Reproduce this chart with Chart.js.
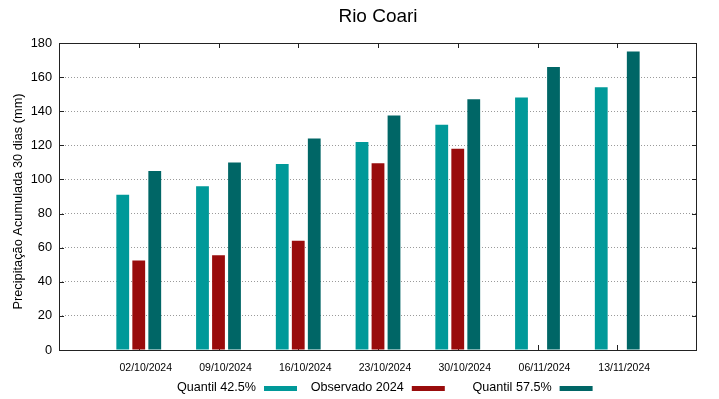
<!DOCTYPE html>
<html>
<head>
<meta charset="utf-8">
<script src="https://cdn.jsdelivr.net/npm/chart.js@4/dist/chart.umd.min.js"></script>
<style>
  html, body { margin: 0; padding: 0; background: #fff; }
  canvas { display: block; }
</style>
</head>
<body>
<canvas id="c" width="719" height="399"></canvas>
<script>
// ---- Data ----
const titleText = 'Rio Coari';
const yAxisTitle = 'Precipitação Acumulada 30 dias (mm)';
const dates = ['02/10/2024', '09/10/2024', '16/10/2024', '23/10/2024', '30/10/2024', '06/11/2024', '13/11/2024'];
const quantil425 = [91, 96, 109, 122, 132, 148, 154];
const observado2024 = [52.5, 55.5, 64, 109.5, 118, null, null];
const quantil575 = [105, 110, 124, 137.5, 147, 166, 175];
const yTicks = [0, 20, 40, 60, 80, 100, 120, 140, 160, 180];
const seriesNames = ['Quantil 42.5%', 'Observado 2024', 'Quantil 57.5%'];

// padding slots so categories sit at 1..7 on a 0..8 axis (as in the reference)
const pad = arr => [null, ...arr, null];
const labels = ['', ...dates, ''];

const COLORS = ['#009999', '#990c0c', '#006666'];
const FONT = 'Liberation Sans, Arial, sans-serif';
const FRAME = '#222';

const framePlugin = {
  id: 'framePlugin',
  beforeDatasetsDraw(chart) {
    const { ctx, chartArea: a, scales: { x, y } } = chart;
    ctx.save();
    ctx.strokeStyle = FRAME;
    ctx.lineWidth = 1;
    ctx.beginPath();
    // inward ticks on x (bottom & top)
    x.ticks.forEach((t, i) => {
      if (!labels[i]) return;
      const px = Math.round(x.getPixelForTick(i)) + 0.5;
      ctx.moveTo(px, a.bottom); ctx.lineTo(px, a.bottom - 5);
      ctx.moveTo(px, a.top); ctx.lineTo(px, a.top + 5);
    });
    // inward ticks on y (left & right)
    yTicks.forEach(v => {
      const py = Math.round(y.getPixelForValue(v)) + 0.5;
      ctx.moveTo(a.left, py); ctx.lineTo(a.left + 5, py);
      ctx.moveTo(a.right, py); ctx.lineTo(a.right - 5, py);
    });
    ctx.stroke();
    ctx.restore();
  },
  afterDatasetsDraw(chart) {
    const { ctx, chartArea: a } = chart;
    ctx.save();
    ctx.strokeStyle = FRAME;
    ctx.lineWidth = 1;
    ctx.strokeRect(Math.round(a.left) + 0.5, Math.round(a.top) + 0.5,
                   Math.round(a.right - a.left) - 1, Math.round(a.bottom - a.top));
    ctx.restore();
  }
};

// gnuplot-style legend: text first, then a short thick sample line
const legendPlugin = {
  id: 'textFirstLegend',
  afterDraw(chart, args, opts) {
    const { ctx } = chart;
    ctx.save();
    ctx.font = opts.fontSize + 'px ' + FONT;
    ctx.textAlign = 'right';
    ctx.textBaseline = 'middle';
    chart.data.datasets.forEach((ds, i) => {
      const sampleEnd = opts.firstSampleEnd + i * opts.columnWidth;
      const sampleStart = sampleEnd - opts.sampleWidth;
      ctx.fillStyle = '#000';
      ctx.fillText(ds.label, sampleStart - opts.gap, opts.textY);
      ctx.fillStyle = ds.backgroundColor;
      ctx.fillRect(sampleStart, opts.sampleY, opts.sampleWidth, opts.sampleHeight);
    });
    ctx.restore();
  }
};

// y-axis title drawn centred on its own anchor (gnuplot places it slightly below the plot centre)
const yTitlePlugin = {
  id: 'yTitle',
  afterDraw(chart, args, opts) {
    const { ctx, chartArea: a } = chart;
    ctx.save();
    ctx.font = opts.fontSize + 'px ' + FONT;
    ctx.fillStyle = '#000';
    ctx.textAlign = 'center';
    ctx.textBaseline = 'middle';
    ctx.translate(opts.x, (a.top + a.bottom) / 2 + opts.dy);
    ctx.rotate(-Math.PI / 2);
    ctx.fillText(yAxisTitle, 0, 0);
    ctx.restore();
  }
};

new Chart(document.getElementById('c'), {
  type: 'bar',
  data: {
    labels: labels,
    datasets: [
      { label: seriesNames[0], data: pad(quantil425), backgroundColor: COLORS[0] },
      { label: seriesNames[1], data: pad(observado2024), backgroundColor: COLORS[1] },
      { label: seriesNames[2], data: pad(quantil575), backgroundColor: COLORS[2] }
    ]
  },
  options: {
    responsive: false,
    animation: false,
    devicePixelRatio: 1,
    layout: { padding: { left: 0, right: 22, top: 0, bottom: 0 } },
    datasets: { bar: { categoryPercentage: 0.602, barPercentage: 0.8, borderWidth: 0 } },
    plugins: {
      legend: { display: false },
      tooltip: { enabled: false },
      title: {
        display: true,
        text: titleText,
        fullSize: false,
        color: '#000',
        font: { family: FONT, size: 19, weight: 'normal', lineHeight: 1.2 },
        padding: { top: 5.5, bottom: 14.7 }
      },
      textFirstLegend: {
        fontSize: 12.6,
        textY: 388,
        firstSampleEnd: 297,
        columnWidth: 147.8,
        sampleWidth: 33,
        sampleHeight: 5,
        sampleY: 386,
        gap: 8
      },
      yTitle: { fontSize: 12.8, x: 18, dy: 5 }
    },
    scales: {
      x: {
        type: 'category',
        offset: false,
        grid: { display: false, drawTicks: false },
        border: { display: false },
        ticks: {
          color: '#000',
          font: { family: FONT, size: 10.5 },
          padding: 12,
          labelOffset: 7,
          maxRotation: 0,
          minRotation: 0,
          autoSkip: false
        },
        afterFit(scale) { scale.height = 49; }
      },
      y: {
        min: 0,
        max: 180,
        grid: { color: '#9a9a9a', lineWidth: 1, drawTicks: false },
        border: { display: false, dash: [1, 2] },
        ticks: {
          stepSize: 20,
          color: '#000',
          font: { family: FONT, size: 12.8 },
          padding: 7
        },
        title: { display: false },
        afterFit(scale) { scale.width = 59; }
      }
    }
  },
  plugins: [framePlugin, legendPlugin, yTitlePlugin]
});
</script>
</body>
</html>
